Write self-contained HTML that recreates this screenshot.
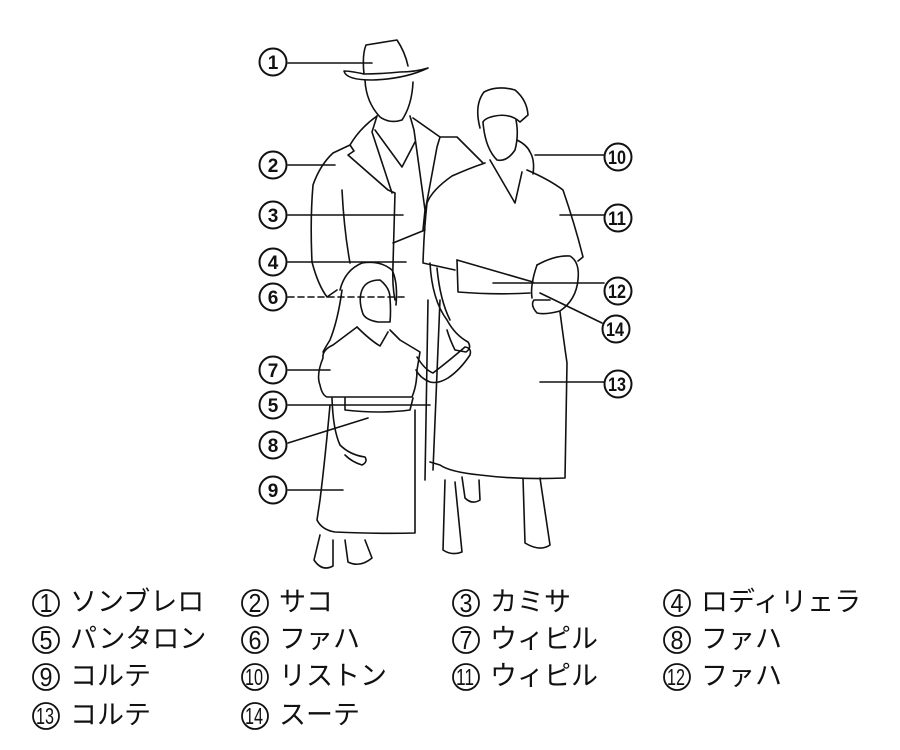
<!DOCTYPE html>
<html><head><meta charset="utf-8"><style>
html,body{margin:0;padding:0;background:#fff;}
body{width:900px;height:750px;overflow:hidden;position:relative;}
svg{position:absolute;left:0;top:0;}
.lg{position:absolute;font-family:"Liberation Sans","Noto Sans CJK JP",sans-serif;font-size:27px;color:#111;white-space:nowrap;line-height:1;}
</style></head><body>
<svg width="900" height="750" viewBox="0 0 900 750" fill="none" stroke="#111" stroke-width="1.6" stroke-linejoin="round" stroke-linecap="round">
<path d="M364,74 Q362,55 366,45 Q385,42 397,40 Q405,52 408,66"/>
<path d="M344,71 Q346,80 372,80 Q405,79 428,68 Q415,72 400,72 Q380,74 364,74 Q350,71 344,71 Z"/>
<path d="M365,80 Q366,102 380,117 Q390,124 402,120 Q412,105 413,82"/>
<path d="M377,116 Q360,128 350,145 L333,153 Q320,165 313,185 Q310,220 312,262 Q318,285 327,297 L337,290"/>
<path d="M350,145 L354,151 L348,155 L388,190 L395,193 L393,265"/>
<path d="M377,116 L372,132 Q378,150 392,193"/>
<path d="M375,130 L402,167 L415,142"/>
<path d="M410,116 L414,130 L425,210 L423,230"/>
<path d="M413,118 L440,137 L437,147 L425,212"/>
<path d="M440,137 L457,137 L483,163"/>
<path d="M342,190 Q344,230 350,263"/>
<path d="M393,265 Q392,285 395,300"/>
<path d="M425,230 L393,243"/>
<path d="M428,300 L425,480"/>
<path d="M462,477 L465,498 Q472,505 480,500 L479,480"/>
<path d="M480,128 Q474,105 484,92 Q497,85 515,90 Q527,100 528,115 L520,122 Q510,113 495,116 Q485,118 483,122"/>
<path d="M483,122 Q485,148 497,160 Q507,162 515,150 Q519,135 516,120"/>
<path d="M517,140 Q527,145 530,152 Q535,160 533,174"/>
<path d="M485,163 Q470,168 452,176 Q432,190 427,203 Q424,230 423,263 L455,270"/>
<path d="M490,160 L515,203 L522,172"/>
<path d="M527,170 Q550,180 563,190 Q575,225 583,257 L578,261"/>
<path d="M457,260 L458,292 Q495,295 530,293"/>
<path d="M457,260 L533,282"/>
<path d="M537,265 Q555,255 570,256 Q580,262 578,280 Q576,300 560,311 Q545,315 537,313 Q530,305 534,300 L550,300"/>
<path d="M537,265 Q530,285 532,298"/>
<path d="M430,263 Q432,300 447,320 Q455,335 468,342 Q472,348 466,352 L455,350 Q450,340 447,330"/>
<path d="M437,268 Q440,300 450,320"/>
<path d="M560,312 Q563,335 567,363 L565,478 Q520,480 480,475 Q450,472 440,465 L430,462"/>
<path d="M440,300 L433,470"/>
<path d="M445,480 L443,550 Q452,556 462,552 L455,482"/>
<path d="M523,478 L525,543 Q540,552 550,545 L540,478"/>
<path d="M340,290 Q345,270 362,263 Q380,260 392,270 Q398,282 396,305"/>
<path d="M342,290 Q338,320 330,340 Q325,348 323,352"/>
<path d="M362,290 Q366,280 380,280 Q390,288 390,298 Q391,312 390,322 L378,322 Q366,320 363,314 Q358,300 362,290"/>
<path d="M357,327 L333,345 Q322,350 323,358 Q316,375 320,385 Q322,395 327,397 L412,397 Q417,385 417,370 L420,352 L400,340 L390,330"/>
<path d="M357,327 Q370,340 380,346 L388,332"/>
<path d="M417,357 Q425,370 433,373 Q450,360 465,347 Q472,348 470,355 Q460,370 448,378 Q438,384 430,382 Q420,378 416,370"/>
<path d="M345,398 L345,410 Q380,414 410,410 L413,398"/>
<path d="M332,398 Q333,430 340,445 Q350,455 365,457 Q368,462 362,465 Q352,462 345,455"/>
<path d="M330,405 Q325,460 320,500 L317,520 Q322,530 335,532 Q380,534 415,533 L415,410"/>
<path d="M320,535 L314,560 Q322,572 333,566 L333,540"/>
<path d="M345,540 L348,562 Q360,568 372,558 L365,540"/>
<line x1="288" y1="63" x2="372" y2="63"/>
<line x1="288" y1="165" x2="335" y2="165"/>
<line x1="288" y1="215" x2="403" y2="215"/>
<line x1="288" y1="262" x2="406" y2="262"/>
<line x1="288" y1="297" x2="406" y2="297" stroke-dasharray="6,4"/>
<line x1="288" y1="370" x2="330" y2="370"/>
<line x1="288" y1="405" x2="430" y2="405"/>
<line x1="288" y1="443" x2="368" y2="418"/>
<line x1="288" y1="490" x2="343" y2="490"/>
<line x1="535" y1="155" x2="604" y2="155"/>
<line x1="560" y1="215" x2="604" y2="215"/>
<line x1="493" y1="283" x2="604" y2="283"/>
<line x1="540" y1="293" x2="602" y2="323"/>
<line x1="540" y1="382" x2="604" y2="382"/>
<g stroke-width="2">
<circle cx="273" cy="62" r="13.5"/><circle cx="273" cy="165" r="13.5"/><circle cx="273" cy="215" r="13.5"/>
<circle cx="273" cy="262" r="13.5"/><circle cx="273" cy="297" r="13.5"/><circle cx="273" cy="370" r="13.5"/>
<circle cx="273" cy="405" r="13.5"/><circle cx="273" cy="445" r="13.5"/><circle cx="273" cy="490" r="13.5"/>
<circle cx="618" cy="157" r="13.5"/><circle cx="618" cy="218" r="13.5"/><circle cx="618" cy="291" r="13.5"/>
<circle cx="616" cy="329" r="13.5"/><circle cx="618" cy="384" r="13.5"/>
</g>
<g stroke-width="1.8">
<circle cx="46" cy="603" r="13"/><circle cx="255" cy="603" r="13"/><circle cx="466" cy="603" r="13"/><circle cx="677" cy="603" r="13"/>
<circle cx="46" cy="640" r="13"/><circle cx="255" cy="640" r="13"/><circle cx="466" cy="640" r="13"/><circle cx="677" cy="640" r="13"/>
<circle cx="46" cy="677" r="13"/><circle cx="255" cy="677" r="13"/><circle cx="466" cy="677" r="13"/><circle cx="677" cy="677" r="13"/>
<circle cx="46" cy="716" r="13"/><circle cx="255" cy="716" r="13"/>
</g>
<g fill="#111" stroke="none" font-family="Liberation Sans, sans-serif" font-weight="bold" text-anchor="middle">
<g font-size="19">
<text x="273" y="69">1</text><text x="273" y="172">2</text><text x="273" y="222">3</text>
<text x="273" y="269">4</text><text x="273" y="304">6</text><text x="273" y="377">7</text>
<text x="273" y="412">5</text><text x="273" y="452">8</text><text x="273" y="497">9</text>
</g>
<g font-size="19">
<text x="617" y="164" textLength="18" lengthAdjust="spacingAndGlyphs">10</text>
<text x="617" y="225" textLength="18" lengthAdjust="spacingAndGlyphs">11</text>
<text x="617" y="298" textLength="18" lengthAdjust="spacingAndGlyphs">12</text>
<text x="615" y="336" textLength="18" lengthAdjust="spacingAndGlyphs">14</text>
<text x="617" y="391" textLength="18" lengthAdjust="spacingAndGlyphs">13</text>
</g>
<g font-size="26" font-weight="normal">
<text x="46" y="612" textLength="13" lengthAdjust="spacingAndGlyphs">1</text><text x="255" y="612" textLength="13" lengthAdjust="spacingAndGlyphs">2</text><text x="466" y="612" textLength="13" lengthAdjust="spacingAndGlyphs">3</text><text x="677" y="612" textLength="13" lengthAdjust="spacingAndGlyphs">4</text>
<text x="46" y="649" textLength="13" lengthAdjust="spacingAndGlyphs">5</text><text x="255" y="649" textLength="13" lengthAdjust="spacingAndGlyphs">6</text><text x="466" y="649" textLength="13" lengthAdjust="spacingAndGlyphs">7</text><text x="677" y="649" textLength="13" lengthAdjust="spacingAndGlyphs">8</text>
<text x="46" y="686" textLength="13" lengthAdjust="spacingAndGlyphs">9</text>
</g>
<g font-size="23" font-weight="normal">
<text x="254" y="685" textLength="18" lengthAdjust="spacingAndGlyphs">10</text>
<text x="465" y="685" textLength="18" lengthAdjust="spacingAndGlyphs">11</text>
<text x="676" y="685" textLength="18" lengthAdjust="spacingAndGlyphs">12</text>
<text x="45" y="724" textLength="18" lengthAdjust="spacingAndGlyphs">13</text>
<text x="254" y="724" textLength="18" lengthAdjust="spacingAndGlyphs">14</text>
</g>
</g>
</svg>
<div class="lg" style="left:70px;top:589px">ソンブレロ</div>
<div class="lg" style="left:279px;top:589px">サコ</div>
<div class="lg" style="left:490px;top:589px">カミサ</div>
<div class="lg" style="left:701px;top:589px">ロディリェラ</div>
<div class="lg" style="left:70px;top:626px">パンタロン</div>
<div class="lg" style="left:279px;top:626px">ファハ</div>
<div class="lg" style="left:490px;top:626px">ウィピル</div>
<div class="lg" style="left:701px;top:626px">ファハ</div>
<div class="lg" style="left:70px;top:663px">コルテ</div>
<div class="lg" style="left:279px;top:663px">リストン</div>
<div class="lg" style="left:490px;top:663px">ウィピル</div>
<div class="lg" style="left:701px;top:663px">ファハ</div>
<div class="lg" style="left:70px;top:702px">コルテ</div>
<div class="lg" style="left:279px;top:702px">スーテ</div>
</body></html>
